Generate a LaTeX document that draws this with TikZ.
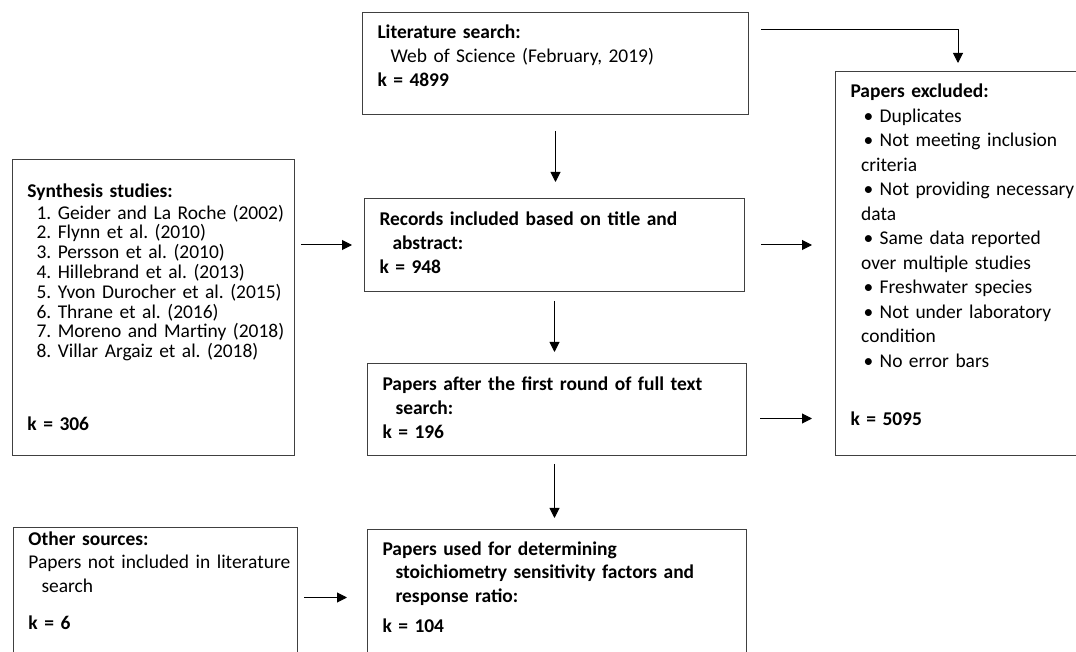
\documentclass[tikz,border=0pt]{standalone}
\usepackage{fontspec}
\setmainfont{Carlito}
\usetikzlibrary{arrows.meta}
\frenchspacing

\begin{document}
\begin{tikzpicture}[x=0.75pt, y=-0.75pt,
  box/.style={draw=black!75, line width=0.75pt, anchor=north west, align=left,
    inner xsep=11.25pt, inner ysep=0pt, font=\fontsize{14.6}{18}\selectfont},
  arr/.style={-{Triangle[length=7.5pt,width=7.5pt]}, line width=0.75pt}]
\useasboundingbox (0,0) rectangle (1076,652);
\clip (0,0) rectangle (1076,652);

\node[box, text width=267pt, text height=19.5pt, text depth=57pt] (lit_search) at (362,12)
  {\textbf{Literature search:}\\
   \hspace*{9.75pt}Web of Science (February, 2019)\\
   \textbf{k = 4899}};
\node[box, text width=189pt, text height=28.5pt, text depth=193.5pt,
  font=\fontsize{14.6}{14.85}\selectfont] (synth_studies) at (12,159)
  {\textbf{Synthesis studies:}\\[1.4pt]
   \hspace*{6.75pt}\mbox{1. Geider and La Roche (2002)}\\
   \hspace*{6.75pt}2. Flynn et al. (2010)\\
   \hspace*{6.75pt}3. Persson et al. (2010)\\
   \hspace*{6.75pt}4. Hillebrand et al. (2013)\\
   \hspace*{6.75pt}\mbox{5. Yvon Durocher et al. (2015)}\\
   \hspace*{6.75pt}6. Thrane et al. (2016)\\
   \hspace*{6.75pt}\mbox{7. Moreno and Martiny (2018)}\\
   \hspace*{6.75pt}\mbox{8. Villar Argaiz et al. (2018)}\\[39.9pt]
   \textbf{k = 306}};
\node[box, text width=262.5pt, text height=20.25pt, text depth=49.5pt] (rec_incl) at (364,198)
  {\textbf{Records included based on title and}\\
   \hspace*{9.75pt}\textbf{abstract:}\\
   \textbf{k = 948}};
\node[box, text width=261.75pt, text height=20.25pt, text depth=48.75pt] (papers_first) at (367,363)
  {\textbf{Papers after the first round of full text}\\
   \hspace*{9.75pt}\textbf{search:}\\
   \textbf{k = 196}};
\node[box, text width=202.5pt, text height=19.5pt, text depth=268.5pt,
  font=\fontsize{14.6}{18.4}\selectfont] (papers_excl) at (835,71)
  {\textbf{Papers excluded:}\\
   \hspace*{9.75pt}• Duplicates\\
   \hspace*{9.75pt}• Not meeting inclusion\\
   \hspace*{8pt}criteria\\
   \hspace*{9.75pt}\mbox{• Not providing necessary}\\
   \hspace*{8pt}data\\
   \hspace*{9.75pt}• Same data reported\\
   \hspace*{8pt}over multiple studies\\
   \hspace*{9.75pt}• Freshwater species\\
   \hspace*{9.75pt}• Not under laboratory\\
   \hspace*{8pt}condition\\
   \hspace*{9.75pt}• No error bars\\[25.5pt]
   \textbf{k = 5095}};
\node[box, text width=190.5pt, text height=13.5pt, text depth=91.5pt,
  font=\fontsize{14.6}{17.6}\selectfont] (other_src) at (13,527)
  {\textbf{Other sources:}\\
   \mbox{Papers not included in literature}\\
   \hspace*{9.75pt}search\\[10.5pt]
   \textbf{k = 6}};
\node[box, text width=261.75pt, text height=19.5pt, text depth=82.5pt,
  font=\fontsize{14.6}{17.6}\selectfont] (papers_used) at (367,529)
  {\textbf{Papers used for determining}\\
   \hspace*{9.75pt}\textbf{stoichiometry sensitivity factors and}\\
   \hspace*{9.75pt}\textbf{response ratio:}\\[4.9pt]
   \textbf{k = 104}};

\path[arr] (lit_search.south) edge[shorten <=12pt, shorten >=12pt] (lit_search.south |- rec_incl.north);
\path[arr] (rec_incl.south) edge[shorten <=6.75pt, shorten >=8.25pt] (rec_incl.south |- papers_first.north);
\path[arr] (rec_incl.south |- papers_first.south) edge[shorten <=6pt, shorten >=8.25pt] (rec_incl.south |- papers_used.north);
\path[arr] (rec_incl.west -| synth_studies.east) edge[shorten <=4.5pt, shorten >=9pt] (rec_incl.west);
\path[arr] (rec_incl.east) edge[shorten <=12pt, shorten >=17.25pt] (rec_incl.east -| papers_excl.west);
\path[arr] ([yshift=-6.75pt]papers_first.east) edge[shorten <=9.75pt, shorten >=17.25pt] ([yshift=-6.75pt]papers_first.east -| papers_excl.west);
\path[arr] (other_src.east) edge[shorten <=4.5pt, shorten >=15pt] (papers_used.west);
\draw[arr, shorten <=9pt, shorten >=6pt] ([yshift=-13.5pt]lit_search.north east) -| ([xshift=92.25pt]papers_excl.north west);

\end{tikzpicture}
\end{document}
